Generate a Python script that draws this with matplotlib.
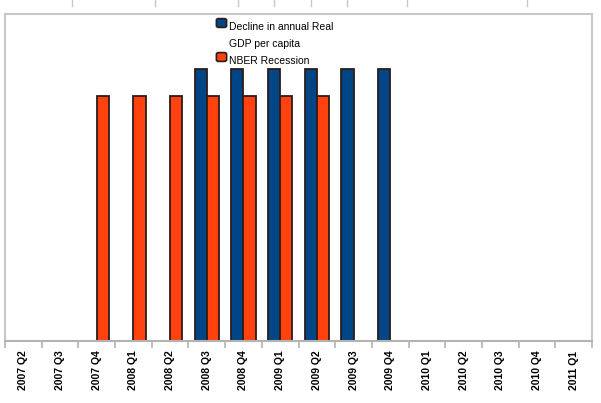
import matplotlib.pyplot as plt
import numpy as np
from matplotlib.patches import FancyBboxPatch
from matplotlib.lines import Line2D

# quarters on the x axis
quarters = ['2007 Q2', '2007 Q3', '2007 Q4', '2008 Q1', '2008 Q2', '2008 Q3',
            '2008 Q4', '2009 Q1', '2009 Q2', '2009 Q3', '2009 Q4', '2010 Q1',
            '2010 Q2', '2010 Q3', '2010 Q4', '2011 Q1']
# series values (0 = no bar)
gdp_decline = [0, 0, 0, 0, 0, 1, 1, 1, 1, 1, 1, 0, 0, 0, 0, 0]
nber_recession = [0, 0, 0.9, 0.9, 0.9, 0.9, 0.9, 0.9, 0.9, 0, 0, 0, 0, 0, 0, 0]

BLUE = '#004586'
ORANGE = '#ff420e'
EDGE = '#2b1d1a'
GRAY = '#b3b3b3'

fig = plt.figure(figsize=(6.01, 4.03), dpi=100)
ax = fig.add_axes([5 / 601, 62 / 403, 587 / 601, 327 / 403])

x = np.arange(len(quarters))
w = 0.33
for xi, v in zip(x, gdp_decline):
    if v:
        ax.bar(xi + 0.5 - w, v, width=w, align='edge', color=BLUE, edgecolor=EDGE, linewidth=1.3)
for xi, v in zip(x, nber_recession):
    if v:
        ax.bar(xi + 0.5, v, width=w, align='edge', color=ORANGE, edgecolor=EDGE, linewidth=1.3)

ax.set_xlim(0, len(quarters))
ax.set_ylim(0, 1.2)
ax.set_yticks([])

# ticks at category boundaries, labels at centres
ax.set_xticks(np.arange(len(quarters) + 1))
ax.set_xticklabels([])
ax.set_xticks(x + 0.5, minor=True)
ax.set_xticklabels(quarters, minor=True, rotation=90, fontsize=7.5,
                   fontweight='bold', family='Liberation Sans')
ax.tick_params(axis='x', which='major', length=5, width=1.2, color=GRAY, direction='out')
ax.tick_params(axis='x', which='minor', length=0, pad=7)

for s in ['left', 'top', 'right']:
    ax.spines[s].set_color('#c8c8c8')
    ax.spines[s].set_linewidth(1.5)
ax.spines['bottom'].set_color(GRAY)
ax.spines['bottom'].set_linewidth(1.5)

# legend drawn by hand near the top centre
def leg_box(px, py, color):
    p = FancyBboxPatch((px / 601, 1 - py / 403), 9 / 601, 8 / 403,
                       boxstyle='round,pad=0.001,rounding_size=0.004',
                       transform=fig.transFigure, facecolor=color, edgecolor=EDGE, linewidth=1.2)
    fig.patches.append(p)

leg_box(217, 27, BLUE)
leg_box(217, 61, ORANGE)
for txt, py in [('Decline in annual Real', 27), ('GDP per capita', 44), ('NBER Recession', 61)]:
    fig.text(229 / 601, 1 - py / 403, txt, fontsize=7.5, family='Liberation Sans',
             va='center', ha='left')

# remnants of the frame above
for px in [72, 155, 238, 274, 311, 347, 407, 527]:
    fig.add_artist(Line2D([px / 601, px / 601], [1, 1 - 6 / 403], color='#c8c8c8', linewidth=1,
                          transform=fig.transFigure))

fig.savefig('out.png', dpi=100)
